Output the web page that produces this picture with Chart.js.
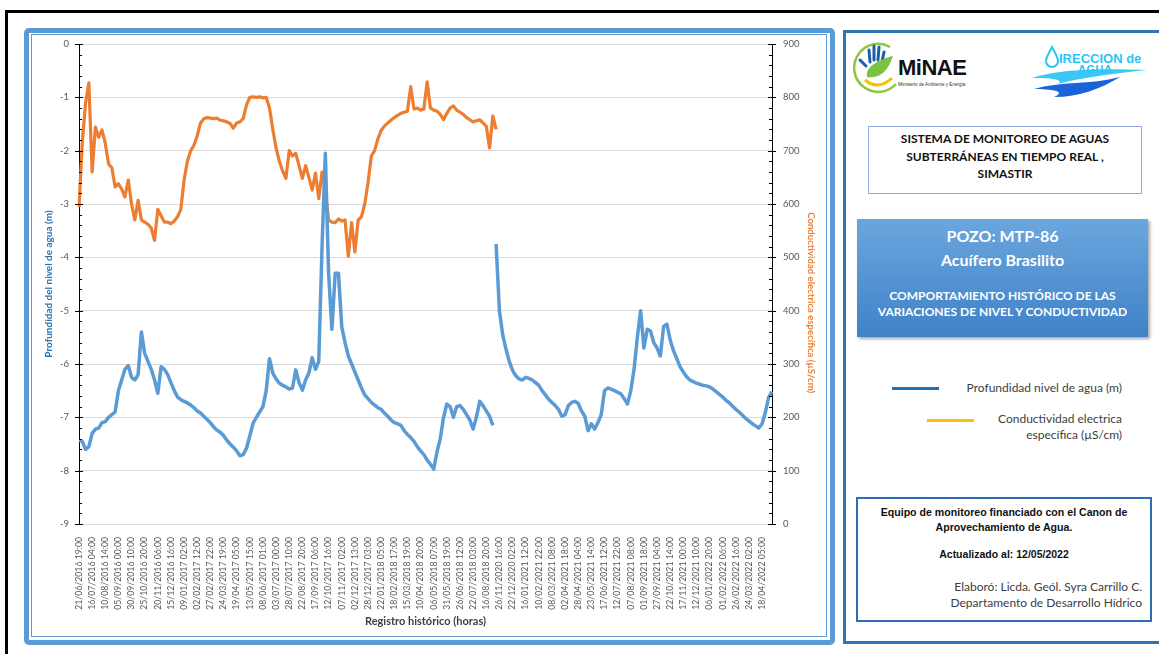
<!DOCTYPE html>
<html lang="es">
<head>
<meta charset="utf-8">
<title>POZO MTP-86</title>
<script src="https://cdn.jsdelivr.net/npm/chart.js@4.4.1/dist/chart.umd.min.js"></script>
<style>
  html, body { margin: 0; padding: 0; background: #fff; }
  body { width: 1159px; height: 654px; position: relative; overflow: hidden; font-family: Lato, "Liberation Sans", sans-serif; }
  .abs { position: absolute; }
  #topLine { left: 5px; top: 10px; width: 1154px; height: 3px; background: #000; }
  #leftLine { left: 5px; top: 10px; width: 3px; height: 644px; background: #000; }
  #chartFrame { left: 24px; top: 28px; width: 801px; height: 607px; border: 5px solid #5b9bd5; border-radius: 5px; }
  #chartInner { left: 31px; top: 34px; width: 794px; height: 601px; border: 1px solid #5b9bd5; }
  #chartBox { left: 32px; top: 35px; width: 795px; height: 602px; }
  #sidePanel { left: 843px; top: 30px; width: 316px; height: 608px; border: 3px solid #2e75b6; border-right: none; }
  #minae { left: 898px; top: 55px; font: bold 22px "Liberation Sans", Arial, sans-serif; color: #111; letter-spacing: -0.5px; }
  #minaeSub { left: 898px; top: 82px; font: 4.6px "Liberation Sans", Arial, sans-serif; color: #333; white-space: nowrap; }
  #dirText { left: 1059px; top: 52px; font: bold 13px/14px "Liberation Sans", Arial, sans-serif; color: #29c5f6; white-space: nowrap; }
  #aguaText { left: 1078px; top: 64px; font: bold 11px/11px "Liberation Sans", Arial, sans-serif; color: #29c5f6; letter-spacing: 0.5px; }
  #simastir { left: 868px; top: 126px; width: 272px; height: 63px; border: 1px solid #8eaadb; text-align: center;
              font: bold 12px/17.5px Lato, sans-serif; color: #111; padding-top: 3px; }
  #pozo { left: 857px; top: 219px; width: 291px; height: 118px; background: linear-gradient(#6ba6de, #3f82c8);
          box-shadow: 2px 2px 3px rgba(0,0,0,0.35); color: #fff; text-align: center; }
  #pozo .big { font: bold 16px/24px Lato, sans-serif; }
  #pozo .small { font: bold 12px/16px Lato, sans-serif; }
  .legLine { height: 3px; }
  .legText { font: 12px/16px Lato, sans-serif; color: #404040; text-align: right; white-space: nowrap; }
  #footBox { left: 856px; top: 497px; width: 292px; height: 121px; border: 2px solid #2e6db4; }
  #footA { left: 858px; top: 505px; width: 292px; text-align: center; font: bold 10.6px/15px "Liberation Sans", Arial, sans-serif; color: #111; }
  #footB { left: 858px; top: 547px; width: 292px; text-align: center; font: bold 10.5px/15px "Liberation Sans", Arial, sans-serif; color: #111; }
  #footC { right: 17px; top: 579px; text-align: right; font: 12px/16px Lato, sans-serif; color: #404040; white-space: nowrap; }
</style>
</head>
<body>
<div id="topLine" class="abs"></div>
<div id="leftLine" class="abs"></div>

<div id="chartFrame" class="abs"></div>
<div id="chartInner" class="abs"></div>
<div id="chartBox" class="abs"><canvas id="chart1" width="795" height="602"></canvas></div>

<div id="sidePanel" class="abs"></div>

<!-- logos -->
<svg class="abs" style="left:852px;top:40px" width="48" height="56" viewBox="0 0 48 56">
  <path d="M38 7 A24 24 0 1 0 44 44" fill="none" stroke="#8dc63f" stroke-width="2.5"/>
  <path d="M13 40 Q26 51 40 38" fill="none" stroke="#f2c200" stroke-width="3"/>
  <g stroke="#1d5fa6" stroke-width="3" stroke-linecap="round">
    <line x1="17" y1="10" x2="18" y2="22"/>
    <line x1="22" y1="6" x2="22" y2="20"/>
    <line x1="27" y1="7" x2="26" y2="20"/>
    <line x1="32" y1="12" x2="30" y2="22"/>
    <line x1="8" y1="20" x2="14" y2="26"/>
  </g>
  <path d="M15 37 C13 25 30 19 41 16 C37 28 30 39 15 37 Z" fill="#7cc242"/>
</svg>
<div id="minae" class="abs">MiNAE</div>
<div id="minaeSub" class="abs">Ministerio de Ambiente y Energía</div>

<svg class="abs" style="left:1028px;top:44px" width="122" height="56" viewBox="0 0 122 56">
  <path d="M24 3 C21 9 18 13 18 17 A6 6 0 0 0 30 17 C30 13 27 9 24 3 Z" fill="none" stroke="#29c5f6" stroke-width="2"/>
  <path d="M4 34 C30 26 62 24 119 26 C82 30 52 34 30 40 C38 35 20 34 4 34 Z" fill="#3cc8f4"/>
  <path d="M6 45 C32 37 62 41 92 33 C72 45 52 53 26 53 C40 47 22 45 6 45 Z" fill="#1a63d8"/>
</svg>
<div id="dirText" class="abs">IRECCION de</div>
<div id="aguaText" class="abs">AGUA</div>

<div id="simastir" class="abs">SISTEMA DE MONITOREO DE AGUAS<br>SUBTERRÁNEAS EN TIEMPO REAL ,<br>SIMASTIR</div>

<div id="pozo" class="abs">
  <div class="big" style="margin-top:5px">POZO: MTP-86</div>
  <div class="big">Acuífero Brasilito</div>
  <div class="small" style="margin-top:16px">COMPORTAMIENTO HISTÓRICO DE LAS</div>
  <div class="small">VARIACIONES DE NIVEL Y CONDUCTIVIDAD</div>
</div>

<div class="abs legLine" style="left:892px;top:387px;width:47px;background:#1f6fc0"></div>
<div class="abs legText" style="right:37px;top:380px">Profundidad nivel de agua (m)</div>
<div class="abs legLine" style="left:927px;top:419px;width:47px;background:#ffc000"></div>
<div class="abs legText" style="right:37px;top:411px">Conductividad electrica<br>específica (µS/cm)</div>

<div id="footBox" class="abs"></div>
<div id="footA" class="abs">Equipo de monitoreo financiado con el Canon de<br>Aprovechamiento de Agua.</div>
<div id="footB" class="abs">Actualizado al: 12/05/2022</div>
<div id="footC" class="abs">Elaboró: Licda. Geól. Syra Carrillo C.<br>Departamento de Desarrollo Hídrico</div>

<script>
// Datos
// ========================================================================
var tickLabels = [
  "21/06/2016 19:00", "16/07/2016 04:00", "10/08/2016 14:00", "05/09/2016 00:00", "30/09/2016 10:00",
  "25/10/2016 20:00", "20/11/2016 06:00", "15/12/2016 16:00", "09/01/2017 02:00", "02/02/2017 12:00",
  "27/02/2017 22:00", "24/03/2017 19:00", "19/04/2017 05:00", "13/05/2017 15:00", "08/06/2017 01:00",
  "03/07/2017 00:00", "28/07/2017 10:00", "22/08/2017 20:00", "17/09/2017 06:00", "12/10/2017 16:00",
  "07/11/2017 02:00", "02/12/2017 13:00", "28/12/2017 03:00", "22/01/2018 05:00", "18/02/2018 17:00",
  "15/03/2018 19:00", "10/04/2018 20:00", "06/05/2018 07:00", "31/05/2018 19:00", "26/06/2018 12:00",
  "22/07/2018 03:00", "16/08/2018 20:00", "26/11/2020 16:00", "22/12/2020 02:00", "16/01/2021 12:00",
  "10/02/2021 22:00", "08/03/2021 08:00", "02/04/2021 18:00", "28/04/2021 04:00", "23/05/2021 14:00",
  "17/06/2021 12:00", "12/07/2021 22:00", "07/08/2021 08:00", "01/09/2021 18:00", "27/09/2021 04:00",
  "22/10/2021 14:00", "17/11/2021 00:00", "12/12/2021 10:00", "06/01/2022 20:00", "01/02/2022 06:00",
  "26/02/2022 16:00", "24/03/2022 02:00", "18/04/2022 05:00"
];

// samples per labelled interval on the category axis
var samplesPerLabel = 4;

// Profundidad nivel de agua (m)
var depth = [
  -7.43, -7.45, -7.6, -7.55, -7.3, -7.22, -7.2, -7.1, -7.08, -7.0,
  -6.95, -6.9, -6.5, -6.3, -6.1, -6.03, -6.25, -6.3, -6.2, -5.4,
  -5.8, -5.95, -6.1, -6.3, -6.55, -6.05, -6.1, -6.2, -6.35, -6.5,
  -6.62, -6.67, -6.7, -6.73, -6.77, -6.82, -6.88, -6.92, -6.98, -7.04,
  -7.1, -7.18, -7.24, -7.28, -7.34, -7.43, -7.5, -7.56, -7.63, -7.72,
  -7.7, -7.58, -7.35, -7.11, -7.0, -6.9, -6.8, -6.5, -5.9, -6.17,
  -6.28, -6.36, -6.4, -6.43, -6.47, -6.45, -6.11, -6.35, -6.49, -6.3,
  -6.17, -5.88, -6.1, -5.95, -3.8, -2.05, -4.3, -5.35, -4.3, -4.3,
  -5.3, -5.6, -5.85, -6.0, -6.15, -6.3, -6.45, -6.58, -6.65, -6.72,
  -6.77, -6.82, -6.85, -6.92, -6.98, -7.05, -7.1, -7.12, -7.15, -7.25,
  -7.32, -7.38, -7.45, -7.55, -7.63, -7.7, -7.8, -7.88, -7.97, -7.65,
  -7.4, -7.0, -6.75, -6.8, -7.0, -6.8, -6.78, -6.85, -6.95, -7.05,
  -7.22, -7.0, -6.7, -6.78, -6.88, -6.98, -7.15, -3.75, -5.0, -5.45,
  -5.72, -5.95, -6.12, -6.22, -6.28, -6.3, -6.25, -6.27, -6.3, -6.35,
  -6.4, -6.5, -6.58, -6.66, -6.72, -6.78, -6.85, -6.98, -6.95, -6.78,
  -6.72, -6.7, -6.74, -6.88, -6.98, -7.25, -7.12, -7.22, -7.1, -6.95,
  -6.5, -6.45, -6.47, -6.5, -6.53, -6.56, -6.65, -6.75, -6.5, -6.1,
  -5.5, -5.0, -5.7, -5.35, -5.38, -5.6, -5.7, -5.85, -5.3, -5.25,
  -5.55, -5.75, -5.9, -6.05, -6.15, -6.24, -6.3, -6.33, -6.36, -6.38,
  -6.4, -6.41, -6.43, -6.47, -6.52, -6.57, -6.62, -6.68, -6.73, -6.79,
  -6.85, -6.9, -6.96, -7.02, -7.07, -7.12, -7.16, -7.2, -7.12, -6.9,
  -6.62, -6.52
];
// last sample before the Aug 2018 - Nov 2020 gap
var depthGapAfter = 126;

// Conductividad electrica especifica (uS/cm), only until Aug 2018
var conductivity = [
  594, 715, 790, 827, 660, 744, 725, 739, 714, 675,
  668, 632, 638, 628, 613, 645, 600, 570, 607, 570,
  566, 562, 555, 532, 590, 578, 566, 566, 563, 568,
  576, 590, 645, 680, 700, 710, 728, 752, 760, 762,
  761, 760, 761, 757, 756, 754, 751, 742, 752, 754,
  760, 786, 800, 801, 800, 801, 799, 800, 780, 740,
  705, 680, 662, 648, 700, 690, 695, 672, 648, 672,
  650, 626, 658, 610, 660, 625, 570, 566, 565, 572,
  568, 570, 502, 565, 510, 570, 576, 600, 640, 690,
  700, 722, 738, 746, 752, 757, 762, 766, 770, 772,
  774, 820, 778, 780, 776, 778, 829, 780, 776, 774,
  768, 758, 770, 780, 784, 776, 772, 768, 762, 758,
  754, 756, 758, 752, 746, 705, 765, 740
];

var categories = depth.map(function (_, i) {
  var k = i / samplesPerLabel;
  return (i % samplesPerLabel === 0 && tickLabels[k]) ? tickLabels[k] : '';
});

function isWhole(v, step) {
  return Math.abs(v / step - Math.round(v / step)) < 1e-6;
}

// Excel style tick marks: major crossing, minor inside
var axisMarks = {
  id: 'axisMarks',
  afterDraw: function (chart) {
    var ctx = chart.ctx;
    ctx.save();
    ctx.strokeStyle = '#000';
    ctx.lineWidth = 1;
    [['y', 1, 1], ['y2', -1, 100]].forEach(function (a) {
      var s = chart.scales[a[0]];
      var x0 = a[0] === 'y' ? s.right : s.left;
      s.ticks.forEach(function (t) {
        var py = Math.round(s.getPixelForValue(t.value)) + 0.5;
        ctx.beginPath();
        if (isWhole(t.value, a[2])) {
          ctx.moveTo(x0 - 4, py); ctx.lineTo(x0 + 4, py);
        } else {
          ctx.moveTo(x0, py); ctx.lineTo(x0 + 3 * a[1], py);
        }
        ctx.stroke();
      });
    });
    ctx.restore();
  }
};

// fixed axis boxes so the plot sits where the original one does
function fixWidth(w) {
  return function (s) { s.width = w; s.paddingTop = 0; s.paddingBottom = 0; };
}

var tickFont = { family: 'Lato', size: 9.5 };

// Chart
// ========================================================================
var chartEl = document.getElementById('chart1');
new Chart(chartEl, {
  type: 'line',
  data: {
    labels: categories,
    datasets: [{
      label: "Profundidad nivel de agua (m)",
      data: depth,
      yAxisID: 'y',
      borderColor: "#5b9bd5",
      borderWidth: 3.5,
      fill: false,
      segment: {
        borderColor: function (c) { return c.p0DataIndex === depthGapAfter ? 'rgba(0,0,0,0)' : undefined; }
      }
    }, {
      label: "Conductividad electrica específica (µS/cm)",
      data: conductivity,
      yAxisID: 'y2',
      borderColor: "#ed7d31",
      borderWidth: 3.2,
      fill: false
    }]
  },
  options: {
    responsive: false,
    animation: false,
    layout: { padding: { top: 9, left: 0, right: 0, bottom: 0 } },
    elements: {
      point: { radius: 0 },
      line: { tension: 0, borderJoinStyle: 'round' }
    },
    plugins: {
      legend: { display: false },
      tooltip: { enabled: false }
    },
    scales: {
      x: {
        type: 'category',
        grid: { display: false },
        border: { color: '#d9d9d9' },
        ticks: {
          autoSkip: false,
          minRotation: 90,
          maxRotation: 90,
          padding: 5,
          color: '#595959',
          font: { family: 'Lato', size: 8.7 }
        },
        title: {
          display: true,
          text: 'Registro histórico (horas)',
          color: '#404040',
          font: { family: 'Lato', size: 11, weight: 'bold' },
          padding: { top: 0, bottom: 9 }
        },
        afterFit: function (s) { s.height = 113; s.paddingLeft = 0; s.paddingRight = 0; }
      },
      y: {
        position: 'left',
        min: -9,
        max: 0,
        border: { color: '#000' },
        grid: {
          drawTicks: false,
          color: function (c) { return isWhole(c.tick.value, 1) ? '#d9d9d9' : 'rgba(0,0,0,0)'; }
        },
        ticks: {
          stepSize: 0.2,
          autoSkip: false,
          padding: 10,
          color: '#595959',
          font: tickFont,
          callback: function (v) { return isWhole(v, 1) ? String(Math.round(v)) : ''; }
        },
        title: {
          display: true,
          text: 'Profundidad del nivel de agua (m)',
          color: '#2e75b6',
          font: { family: 'Lato', size: 10, weight: 'bold' },
          padding: { top: 11, bottom: 0 }
        },
        afterFit: fixWidth(47)
      },
      y2: {
        position: 'right',
        min: 0,
        max: 900,
        border: { color: '#000' },
        grid: { drawOnChartArea: false, drawTicks: false },
        ticks: {
          stepSize: 20,
          autoSkip: false,
          padding: 11,
          color: '#595959',
          font: tickFont,
          callback: function (v) { return isWhole(v, 100) ? String(v) : ''; }
        },
        title: {
          display: true,
          // leading spaces: the original title sits a little below centre
          text: '                Conductividad electrica específica (µS/cm)',
          color: '#ed7d31',
          font: { family: 'Lato', size: 9.6, weight: 'bold' },
          padding: { top: 10, bottom: 0 }
        },
        afterFit: fixWidth(55)
      }
    }
  },
  plugins: [axisMarks]
});
</script>
</body>
</html>
